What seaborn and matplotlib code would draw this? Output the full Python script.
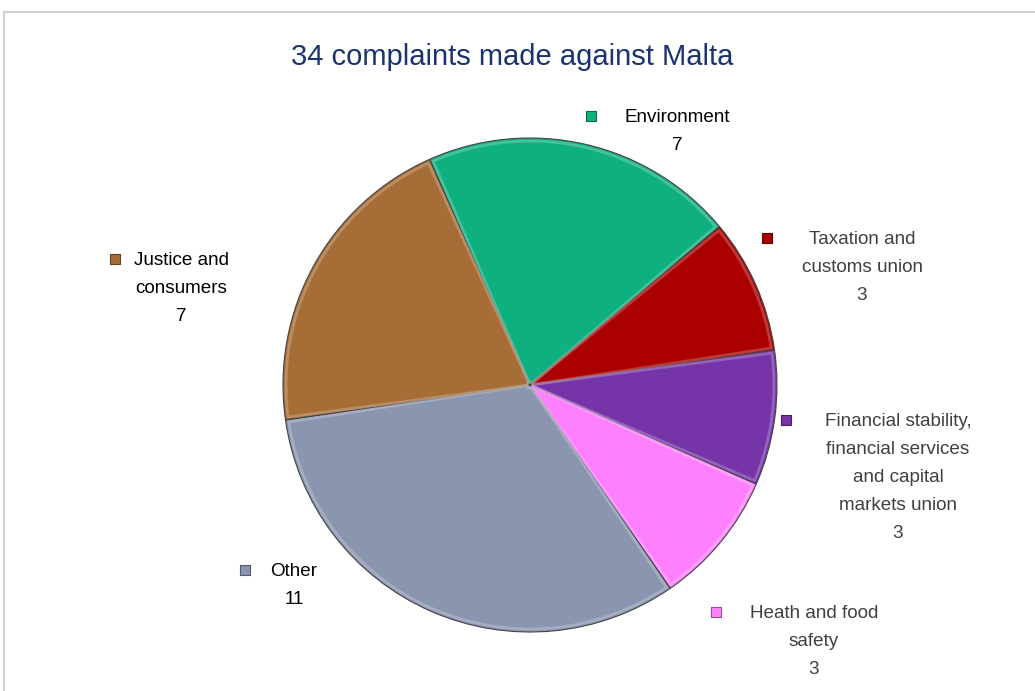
import numpy as np
import matplotlib
matplotlib.use('Agg')
import matplotlib.pyplot as plt
import matplotlib.colors as mcolors
from matplotlib.lines import Line2D
import seaborn as sns

# Data
categories = ["Environment", "Taxation and\ncustoms union",
              "Financial stability,\nfinancial services\nand capital\nmarkets union",
              "Heath and food\nsafety", "Other", "Justice and\nconsumers"]
complaints = [7, 3, 3, 3, 11, 7]
colors = ["#0fb07f", "#aa0000", "#7534a8", "#ff80ff", "#8a96b0", "#a66d36"]
label_colors = ["#000000", "#404040", "#404040", "#404040", "#000000", "#000000"]
title = "34 complaints made against Malta"

sns.set_theme(style="white")
plt.rcParams['font.family'] = ['Liberation Sans', 'DejaVu Sans']

W, H = 1035, 691
fig = plt.figure(figsize=(W / 100, H / 100), dpi=100)
ax = fig.add_axes([0, 0, 1, 1])

cx, cy, r = 530, H - 385, 247
wedges, _ = ax.pie(complaints, colors=colors, startangle=114, counterclock=False,
                   center=(cx, cy), radius=r,
                   wedgeprops=dict(edgecolor="#444444", linewidth=0.8))

# soft bevel highlight along each wedge
for w, c in zip(wedges, colors):
    light = tuple(0.55 * np.array(mcolors.to_rgb(c)) + 0.45)
    ax.add_patch(matplotlib.patches.Wedge((cx, cy), r - 3, w.theta1 + 0.6, w.theta2 - 0.6,
                                          width=r - 6, fill=False, edgecolor=light,
                                          linewidth=2.0, alpha=0.5))

ax.set_xlim(0, W)
ax.set_ylim(0, H)
ax.set_aspect('equal')
ax.axis('off')

# labels: (square x, first line y, text center x) in pixels
label_pos = [(591, 117, 677), (767, 239, 862), (786, 421, 898),
             (716, 613, 814), (245, 571, 294), (115, 260, 181)]
line_step = 28
for (sx, ly, tx), name, n, c, tc in zip(label_pos, categories, complaints, colors, label_colors):
    ax.scatter([sx], [H - ly + 1], marker='s', s=55, color=c,
               edgecolor=mcolors.to_hex(np.array(mcolors.to_rgb(c)) * 0.6), linewidth=0.8, zorder=5)
    lines = name.split("\n") + [str(n)]
    for i, line in enumerate(lines):
        ax.text(tx, H - ly - i * line_step, line, ha='center', va='center',
                fontsize=13.6, color=tc)

fig.text(512 / W, 1 - 57 / H, title, ha='center', va='center', fontsize=21, color="#1a3370")

# chart area border (top and left visible)
fig.add_artist(Line2D([4 / W, 4 / W, 1], [0, 1 - 11.5 / H, 1 - 11.5 / H],
                      transform=fig.transFigure, color="#d0d0d0", linewidth=1.5))

plt.savefig("out.png", dpi=100)
plt.close()
